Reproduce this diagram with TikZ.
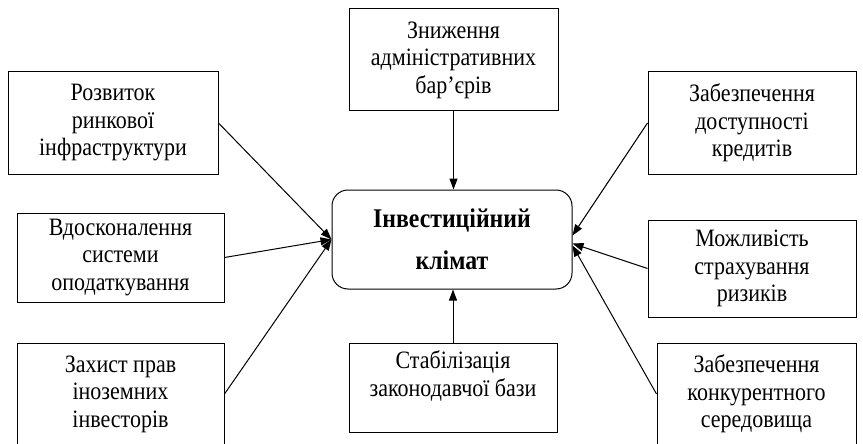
\documentclass[tikz,border=0pt]{standalone}
\usepackage{fontspec}
\setmainfont{Liberation Serif}[FakeStretch=0.88]
\usetikzlibrary{arrows.meta}
\tikzset{
  factor/.style={draw, line width=1pt, align=center, inner sep=0pt,
    font=\fontsize{25}{27.5}\selectfont},
  link/.style={line width=1pt, -{Triangle[length=11pt,width=8pt]}}
}
\begin{document}
\begin{tikzpicture}[x=1pt,y=-1pt]
  \useasboundingbox (0,0) rectangle (863,444);

  % centre
  \node[factor, rounded corners=16pt, minimum width=240pt, minimum height=99pt,
    font=\bfseries\fontsize{27}{42}\selectfont] (clim) at (452,239.5) {Інвестиційний\\клімат};

  % top and bottom
  \node[factor, minimum width=209pt, minimum height=102pt] (bar) at (453.5,60) {Зниження\\адміністративних\\бар’єрів};
  \node[factor, minimum width=208pt, minimum height=89pt] (law) at (453,387.5) {Стабілізація\\законодавчої бази\\\mbox{}};

  % left column
  \node[factor, minimum width=210pt, minimum height=102pt] (infra) at (113,123) {Розвиток\\ринкової\\інфраструктури};
  \node[factor, minimum width=207pt, minimum height=89pt] (tax) at (120.5,257.5) {Вдосконалення\\системи\\оподаткування};
  \node[factor, minimum width=207pt, minimum height=102pt] (rights) at (120.5,394) {Захист прав\\іноземних\\інвесторів};

  % right column
  \node[factor, minimum width=208pt, minimum height=102pt] (credit) at (752,123) {Забезпечення\\доступності\\кредитів};
  \node[factor, minimum width=208pt, minimum height=97pt] (insur) at (752,268.5) {Можливість\\страхування\\ризиків};
  \node[factor, minimum width=199pt, minimum height=102pt] (compet) at (756.5,394) {Забезпечення\\конкурентного\\середовища};

  % links
  \draw[link] (bar.south) -- (bar.south |- clim.north);
  \draw[link] (law.north) -- (law.north |- clim.south);
  \draw[link] (infra.east) -- (clim.west);
  \draw[link] (tax.east) -- (clim.west);
  \draw[link] (rights.east) -- (clim.west);
  \draw[link] (credit.west) -- ([yshift=4pt]clim.east);
  \draw[link] (insur.west) -- ([yshift=-4pt]clim.east);
  \draw[link] (compet.west) -- ([yshift=-6pt]clim.east);
\end{tikzpicture}
\end{document}
